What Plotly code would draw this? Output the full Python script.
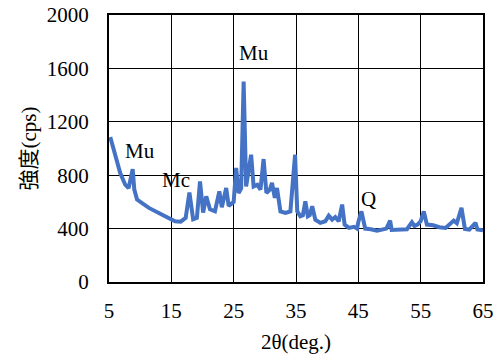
import plotly.graph_objects as go

two_theta = [5.2, 6.0, 6.8, 7.6, 8.15, 8.8, 9.06, 9.5, 11.4, 14.0, 15.6, 16.5, 17.3, 17.9, 18.5,
             19.1, 19.6, 20.1, 20.6, 21.2, 22.0, 22.7, 23.1, 23.8, 24.2, 25.0, 25.4, 25.8,
             26.2, 26.6, 27.0, 27.8, 28.2, 28.8, 29.3, 29.8, 30.25, 30.8, 31.15, 31.6, 31.95,
             32.5, 33.3, 34.1, 34.85, 35.2, 35.7, 36.1, 36.5, 36.9, 37.2, 37.6, 38.1, 38.9,
             39.7, 40.25, 40.8, 41.3, 41.85, 42.4, 42.8, 43.5, 44.3, 44.8, 45.0, 45.5, 46.1,
             47.0, 48.0, 49.5, 50.1, 50.35, 51.5, 52.8, 53.6, 54.0, 54.5, 55.0, 55.5, 56.0,
             57.0, 58.0, 59.0, 60.3, 60.8, 61.55, 62.1, 62.8, 63.8, 64.1, 65.0]
intensity = [1085, 940, 816, 729, 704, 846, 692, 617, 555, 492, 455, 452, 480, 671, 470,
             480, 754, 520, 641, 545, 530, 679, 560, 704, 570, 600, 854, 667,
             700, 1501, 716, 953, 716, 729, 692, 921, 667, 692, 742, 630, 704,
             529, 517, 529, 953, 529, 492, 500, 604, 492, 500, 567, 467, 443,
             455, 497, 467, 487, 455, 580, 430, 405, 413, 400, 450, 529, 400,
             395, 385, 400, 460, 390, 390, 395, 447, 420, 430, 455, 529, 430,
             425, 410, 405, 460, 440, 555, 398, 393, 443, 393, 387]

labels = ["Mu", "Mc", "Mu", "Q"]
label_x = [10.0, 15.8, 28.2, 46.6]
label_y = [985, 765, 1716, 624]

x_ticks = [5, 15, 25, 35, 45, 55, 65]
y_ticks = [0, 400, 800, 1200, 1600, 2000]

serif = "Liberation Serif"
fsize = 21
tfont = dict(family=serif, size=fsize, color="black")

fig = go.Figure()
fig.add_trace(go.Scatter(x=two_theta, y=intensity, mode="lines",
                         line=dict(color="#4472C4", width=4), showlegend=False))

for t, lx, ly in zip(labels, label_x, label_y):
    fig.add_annotation(x=lx, y=ly, text=t, showarrow=False, font=tfont)

fig.update_layout(
    width=500, height=360,
    margin=dict(l=109, r=17, t=15, b=78, autoexpand=False),
    paper_bgcolor="white", plot_bgcolor="white",
    font=tfont,
)
fig.update_xaxes(range=[5, 65], tickvals=x_ticks, ticktext=[str(v) for v in x_ticks],
                 tickfont=tfont, automargin=False,
                 showgrid=True, gridcolor="black", gridwidth=1,
                 showline=True, linecolor="black", linewidth=2, mirror=True,
                 zeroline=False, ticks="", ticklabelstandoff=9,
                 title=dict(text="2θ(deg.)", standoff=12, font=tfont))
fig.update_yaxes(range=[0, 2000], tickvals=y_ticks, ticktext=[str(v) for v in y_ticks],
                 tickfont=tfont, automargin=False,
                 showgrid=True, gridcolor="black", gridwidth=1,
                 showline=True, linecolor="black", linewidth=2, mirror=True,
                 zeroline=False, ticks="", ticklabelstandoff=14,
                 title=dict(text="強度(cps)", standoff=4,
                            font=dict(family="Liberation Serif, Noto Sans CJK JP", size=fsize, color="black")))

fig.write_html("out.html")
